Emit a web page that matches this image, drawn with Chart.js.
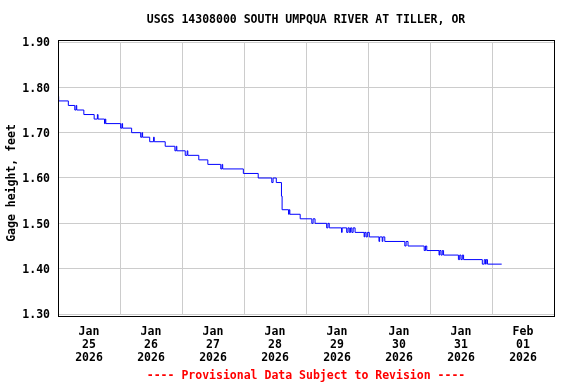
<!DOCTYPE html>
<html><head><meta charset="utf-8">
<script src="https://cdn.jsdelivr.net/npm/chart.js@4/dist/chart.umd.min.js"></script>
<style>html,body{margin:0;padding:0;background:#fff}#wrap{width:576px;height:384px;position:relative}</style>
</head><body><div id="wrap"><canvas id="c"></canvas></div>
<script>
const titleText = "USGS 14308000 SOUTH UMPQUA RIVER AT TILLER, OR";
const yAxisTitle = "Gage height, feet";
const footerText = "---- Provisional Data Subject to Revision ----";

// hours since 2026-01-25 00:00
const hours = [0,0.25,4.0,6.5,7.0,7.25,10.0,14.0,15.25,15.5,18.0,18.25,18.5,24.25,24.75,25.0,28.5,32.0,32.5,32.75,
  35.5,37.0,37.25,41.5,45.25,45.75,46.0,49.25,50.0,50.25,54.5,58.0,63.0,63.5,63.75,71.75,77.5,82.75,83.25,84.5,
  86.5,86.75,89.25,89.5,89.75,93.75,98.25,98.75,99.5,104.0,104.5,105.0,109.75,110.0,111.75,112.25,112.75,113.25,113.75,114.25,
  115.0,118.5,118.75,119.25,119.75,120.5,124.25,124.5,125.5,125.75,126.5,134.25,134.75,135.5,141.75,142.25,142.75,
  147.5,147.75,148.25,148.75,149.25,155.0,155.5,156.0,156.5,157.0,164.25,165.0,165.5,165.75,166.25,171.75];
const gage = [1.78,1.77,1.76,1.75,1.76,1.75,1.74,1.73,1.74,1.73,1.72,1.73,1.72,1.71,1.72,1.71,1.70,1.69,1.70,1.69,
  1.68,1.69,1.68,1.67,1.66,1.67,1.66,1.65,1.66,1.65,1.64,1.63,1.62,1.63,1.62,1.61,1.60,1.59,1.60,1.59,
  1.56,1.53,1.52,1.53,1.52,1.51,1.50,1.51,1.50,1.49,1.50,1.49,1.48,1.49,1.48,1.49,1.48,1.49,1.48,1.49,
  1.48,1.47,1.48,1.47,1.48,1.47,1.46,1.47,1.46,1.47,1.46,1.45,1.46,1.45,1.44,1.45,1.44,
  1.43,1.44,1.43,1.44,1.43,1.42,1.43,1.42,1.43,1.42,1.41,1.42,1.41,1.42,1.41,1.41];

const dayLabels = [["Jan","25","2026"],["Jan","26","2026"],["Jan","27","2026"],["Jan","28","2026"],
  ["Jan","29","2026"],["Jan","30","2026"],["Jan","31","2026"],["Feb","01","2026"]];
const yTicks = [1.30,1.40,1.50,1.60,1.70,1.80,1.90];
const xMin = 0, xMax = 192;

const FONT = '"DejaVu Sans Mono", "Liberation Mono", monospace';

const framePlugin = {
  id: 'frame',
  afterDraw(chart) {
    const {ctx, chartArea: a} = chart;
    ctx.save();
    ctx.strokeStyle = '#000'; ctx.lineWidth = 1;
    const l = Math.round(a.left), r = Math.round(a.right), t = Math.round(a.top) - 2, b = Math.round(a.bottom) + 2;
    ctx.strokeRect(l + 0.5, t + 0.5, r - l, b - t);
    ctx.textAlign = 'center'; ctx.textBaseline = 'middle';
    ctx.fillStyle = '#000';
    ctx.font = 'bold 11.5px ' + FONT;
    ctx.fillText(titleText, (a.left + a.right) / 2, 20.5);
    ctx.fillStyle = '#ff0000';
    ctx.fillText(footerText, (a.left + a.right) / 2, 376);
    ctx.fillStyle = '#000';
    ctx.translate(12, 183);
    ctx.rotate(-Math.PI / 2);
    ctx.fillText(yAxisTitle, 0, 0);
    ctx.restore();
  }
};

new Chart(document.getElementById('c'), {
  type: 'line',
  data: {
    datasets: [{
      data: hours.map((h, i) => ({x: h, y: gage[i]})),
      borderColor: '#0000ff',
      borderWidth: 1,
      pointRadius: 0,
      stepped: true,
      fill: false,
      tension: 0
    }]
  },
  options: {
    responsive: true,
    maintainAspectRatio: false,
    animation: false,
    events: [],
    layout: {padding: {top: 42, right: 22, left: 0, bottom: 0}},
    plugins: {legend: {display: false}, tooltip: {enabled: false}, title: {display: false}},
    scales: {
      x: {
        type: 'linear', min: xMin, max: xMax,
        afterBuildTicks: (axis) => {
          const t = [];
          for (let v = xMin; v <= xMax; v += 12) t.push({value: v});
          axis.ticks = t;
        },
        afterFit: (s) => { s.height = 70; },
        border: {display: false},
        grid: {
          drawTicks: false,
          lineWidth: 1,
          color: (c) => (c.tick && c.tick.value % 24 === 0 && c.tick.value > xMin && c.tick.value < xMax) ? '#cccccc' : 'rgba(0,0,0,0)'
        },
        ticks: {
          autoSkip: false, maxRotation: 0, minRotation: 0, padding: 12,
          color: '#000',
          font: {family: FONT, size: 11.5, weight: 'bold', lineHeight: 1.13},
          callback: (v) => {
            if (v % 24 !== 12) return '';
            return dayLabels[(v - 12) / 24] || '';
          }
        }
      },
      y: {
        type: 'linear', min: 1.3, max: 1.9,
        afterBuildTicks: (axis) => { axis.ticks = yTicks.map(v => ({value: v})); },
        afterFit: (s) => { s.width = 58; },
        border: {display: false},
        grid: {drawTicks: false, color: '#cccccc', lineWidth: 1},
        ticks: {
          padding: 8, color: '#000', labelOffset: 1.5,
          font: {family: FONT, size: 11.5, weight: 'bold'},
          callback: (v) => Number(v).toFixed(2)
        }
      }
    }
  },
  plugins: [framePlugin]
});
</script>
</body></html>
